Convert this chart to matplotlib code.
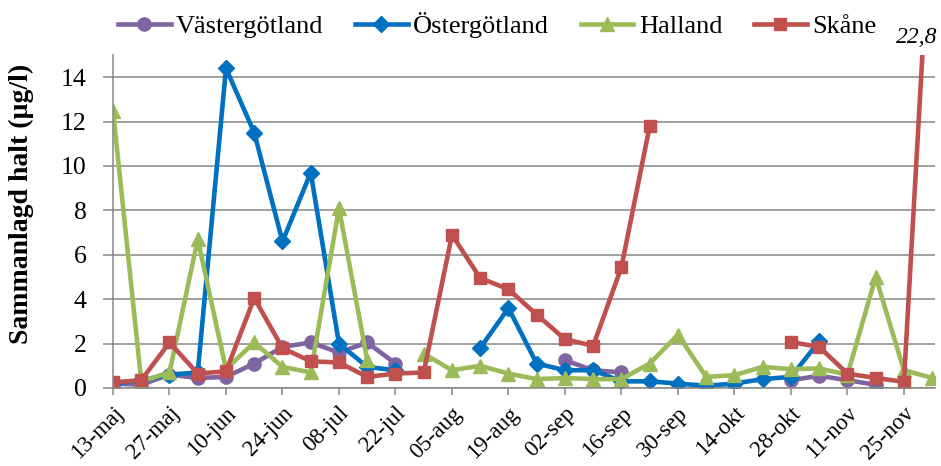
import numpy as np
import matplotlib
matplotlib.use("Agg")
import matplotlib.pyplot as plt
from matplotlib.transforms import ScaledTranslation

nan = np.nan
weeks = list(range(30))
tick_labels = ['13-maj', '27-maj', '10-jun', '24-jun', '08-jul', '22-jul', '05-aug',
               '19-aug', '02-sep', '16-sep', '30-sep', '14-okt', '28-okt', '11-nov', '25-nov']

vastergotland = [0.2, 0.15, 0.6, 0.45, 0.5, 1.1, 1.85, 2.05, 1.6, 2.05, 1.1, nan, nan, nan, nan,
                 nan, 1.25, 0.8, 0.7, nan, nan, nan, nan, nan, 0.35, 0.55, 0.35, 0.15, nan, nan]
ostergotland = [0.2, 0.35, 0.6, 0.7, 14.4, 11.5, 6.6, 9.7, 2.0, 0.95, 0.8, nan, nan, 1.8, 3.6,
                1.1, 0.8, 0.8, 0.3, 0.3, 0.2, 0.1, 0.2, 0.4, 0.5, 2.1, nan, nan, nan, nan]
halland = [12.5, 0.3, 0.7, 6.7, 0.85, 2.05, 0.95, 0.7, 8.1, 1.25, nan, 1.55, 0.8, 1.0, 0.65,
           0.4, 0.45, 0.4, 0.4, 1.1, 2.4, 0.5, 0.58, 0.95, 0.85, 0.88, 0.6, 5.0, 0.8, 0.45]
skane = [0.25, 0.35, 2.05, 0.65, 0.75, 4.05, 1.8, 1.2, 1.15, 0.5, 0.65, 0.7, 6.9, 4.95, 4.45,
         3.3, 2.2, 1.9, 5.45, 11.8, nan, nan, nan, nan, 2.07, 1.85, 0.65, 0.45, 0.28, 22.8]

plt.rcParams['font.family'] = ['Liberation Serif', 'DejaVu Serif']

fig = plt.figure(figsize=(9.41, 4.66), dpi=100)
ax = fig.add_axes([113/941, 78/466, (935-113)/941, (388-55)/466])

series = [
    ('Västergötland', vastergotland, '#8064A2', 'o', 9.5),
    ('Östergötland', ostergotland, '#0070C0', 'D', 8),
    ('Halland', halland, '#9BBB59', '^', 10.5),
    ('Skåne', skane, '#C0504D', 's', 8.5),
]
for name, vals, col, mk, ms in series:
    ax.plot(weeks, vals, color=col, lw=3.3, marker=mk, ms=ms, mec=col, mfc=col, label=name)

ax.set_xlim(0, 29.1)
ax.set_ylim(0, 15)
ax.set_yticks(range(0, 15, 2))
ax.set_xticks(weeks[::2])
ax.set_xticklabels(tick_labels, rotation=45, ha='right', va='center', rotation_mode='anchor')
ax.tick_params(axis='x', labelsize=16.5, length=5, color='#868686', width=1.1, pad=11)
ax.tick_params(axis='y', labelsize=18.5, length=7, color='#868686', width=1.1, pad=12)
offset = ScaledTranslation(7/100, 0, fig.dpi_scale_trans)
for lbl in ax.get_xticklabels():
    lbl.set_transform(lbl.get_transform() + offset)
ax.grid(axis='y', color='#868686', lw=1.1)
ax.set_axisbelow(True)
for s in ['top', 'right']:
    ax.spines[s].set_visible(False)
for s in ['left', 'bottom']:
    ax.spines[s].set_color('#868686')
    ax.spines[s].set_linewidth(1.1)

fig.text(21/941, 1 - 204/466, 'Sammanlagd halt (µg/l)', rotation=90, fontsize=20,
         fontweight='bold', ha='center', va='center')

ax.text(28.45, 1.052, '22,8', transform=ax.get_xaxis_transform(), fontsize=17,
        style='italic', ha='center', va='center', clip_on=False)

fig.legend(loc='center', bbox_to_anchor=(497/941, 1 - 25/466), ncol=4, frameon=False,
           fontsize=19, handlelength=2.0, handletextpad=0.2, columnspacing=1.2,
           borderaxespad=0)

fig.savefig('out.png', dpi=100)
